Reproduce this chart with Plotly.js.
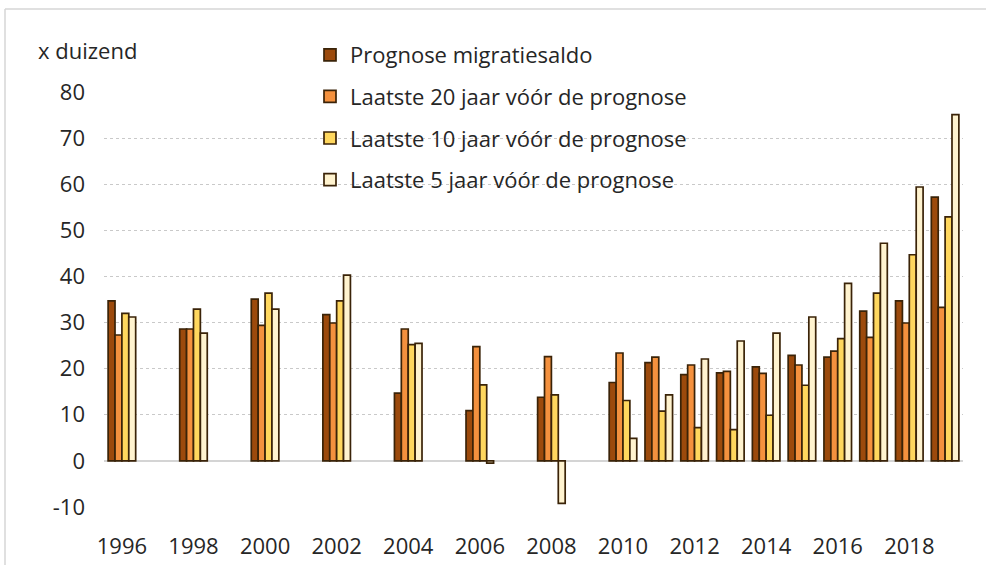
<!DOCTYPE html>
<html>
<head>
<meta charset="utf-8">
<script src="https://cdn.plot.ly/plotly-3.0.1.min.js"></script>
<style>html,body{margin:0;padding:0;background:#fff;}#chart{width:986px;height:565px;}</style>
</head>
<body>
<div id="chart"></div>
<script>
var years = [1996, 1998, 2000, 2002, 2004, 2006, 2008, 2010, 2011, 2012, 2013, 2014, 2015, 2016, 2017, 2018, 2019];
var prognose = [34.7, 28.6, 35.1, 31.7, 14.7, 10.9, 13.8, 17.0, 21.3, 18.7, 19.1, 20.4, 22.9, 22.5, 32.5, 34.7, 57.2];
var laatste20 = [27.3, 28.6, 29.4, 29.9, 28.6, 24.8, 22.6, 23.4, 22.5, 20.8, 19.4, 19.0, 20.8, 23.8, 26.8, 29.9, 33.3];
var laatste10 = [32.0, 32.9, 36.4, 34.7, 25.2, 16.5, 14.3, 13.1, 10.8, 7.2, 6.8, 9.9, 16.4, 26.5, 36.4, 44.7, 52.9];
var laatste5 = [31.2, 27.7, 32.9, 40.3, 25.5, -0.5, -9.2, 4.9, 14.3, 22.1, 26.0, 27.7, 31.2, 38.5, 47.2, 59.4, 75.1];
var seriesNames = ["Prognose migratiesaldo", "Laatste 20 jaar vóór de prognose", "Laatste 10 jaar vóór de prognose", "Laatste 5 jaar vóór de prognose"];
var xTickVals = [1996, 1998, 2000, 2002, 2004, 2006, 2008, 2010, 2012, 2014, 2016, 2018];
var yTickVals = [-10, 0, 10, 20, 30, 40, 50, 60, 70, 80];
var yTickText = ["-10", "0", "10", "20", "30", "40", "50", "60", "70", "80"];

var colors = ["#9C4A0C", "#F4913E", "#FFD75E", "#FFF3CF"];
var allValues = [prognose, laatste20, laatste10, laatste5];
var FONT = "Open Sans, Noto Sans, sans-serif";
var FS = 22;

var traces = allValues.map(function (vals, i) {
  return {
    type: "bar",
    x: years,
    y: vals,
    name: seriesNames[i],
    legendgroup: "g" + i,
    marker: {color: colors[i], line: {color: "#3A2308", width: 1.7}},
    hoverinfo: "x+y+name"
  };
});

var L = 104, R = 963, T = 92, B = 507;
function px(x) { return (x - L) / (R - L); }
function py(y) { return (B - y) / (B - T); }

var layout = {
  width: 986,
  height: 565,
  margin: {l: L, r: 986 - R, t: T, b: 565 - B, autoexpand: false},
  paper_bgcolor: "#ffffff",
  plot_bgcolor: "#ffffff",
  font: {family: FONT, size: FS, color: "#262626"},
  barmode: "group",
  bargap: 0.23,
  bargroupgap: 0,
  showlegend: true,
  legend: {
    xref: "container", yref: "container",
    x: 310 / 986, y: 1 - 34 / 565,
    xanchor: "left", yanchor: "top",
    bgcolor: "rgba(0,0,0,0)",
    font: {family: FONT, size: FS, color: "#262626"},
    tracegroupgap: 10,
    traceorder: "grouped"
  },
  xaxis: {
    range: [1995.5, 2019.5],
    tickvals: xTickVals,
    ticks: "",
    tickangle: 0,
    automargin: false,
    showgrid: false,
    showline: false,
    zeroline: false,
    ticklabelstandoff: 24,
    tickfont: {family: FONT, size: FS, color: "#262626"}
  },
  yaxis: {
    range: [-10, 80],
    tickvals: yTickVals,
    ticktext: yTickText,
    ticks: "",
    automargin: false,
    showgrid: true,
    gridcolor: "#c9c9c9",
    griddash: "dot",
    gridwidth: 1,
    zeroline: true,
    zerolinecolor: "#d4d4d4",
    zerolinewidth: 2,
    showline: false,
    ticklabelstandoff: 18,
    tickfont: {family: FONT, size: FS, color: "#262626"}
  },
  annotations: [{
    xref: "paper", yref: "paper",
    x: px(36), y: py(50),
    xanchor: "left", yanchor: "middle",
    text: "x duizend",
    showarrow: false,
    font: {family: FONT, size: FS, color: "#262626"}
  }],
  shapes: [
    {type: "line", xref: "paper", yref: "paper", x0: px(5), x1: px(986), y0: py(9), y1: py(9), line: {color: "#d6d6d6", width: 1.5}},
    {type: "line", xref: "paper", yref: "paper", x0: px(5), x1: px(5), y0: py(9), y1: py(565), line: {color: "#d6d6d6", width: 1.5}}
  ]
};

Plotly.newPlot("chart", traces, layout, {displayModeBar: false, staticPlot: true});
</script>
</body>
</html>
